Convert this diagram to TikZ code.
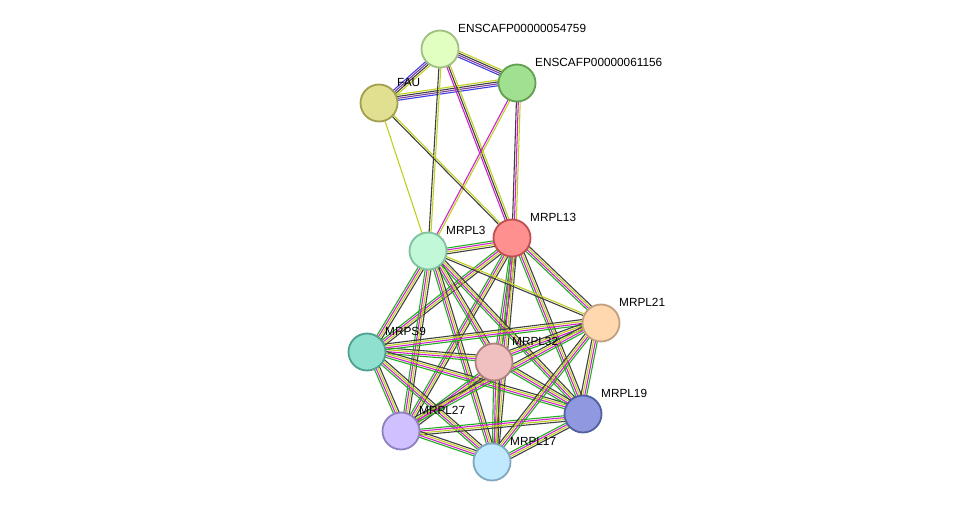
\documentclass[tikz,border=0pt]{standalone}
\usepackage{fontspec}
\setmainfont{Liberation Sans}
\usetikzlibrary{calc}
\definecolor{xg}{HTML}{20B020}
\definecolor{xm}{HTML}{D020D0}
\definecolor{xy}{HTML}{C0D020}
\definecolor{xk}{HTML}{404040}
\definecolor{xb}{HTML}{4040E0}
\definecolor{xv}{HTML}{8040A0}
\tikzset{prot/.style={circle,draw,line width=1.8pt,minimum size=37pt,inner sep=0pt},
lab/.style={font=\fontsize{11.8}{13}\selectfont,anchor=south west,inner sep=1pt}}
\newcommand{\edg}[3]{%
\foreach \c [count=\i] in {#3}{\pgfmathsetmacro{\o}{(\i-1)*1.9}%
\draw[color=\c,line width=1.1pt] ($(#1)!\o pt!90:(#2)$) -- ($(#2)!\o pt!-90:(#1)$);}}
\begin{document}
\begin{tikzpicture}[x=1pt,y=-1pt]
\useasboundingbox (0,0) rectangle (976,508);
\coordinate (E1) at (440,49);
\coordinate (E2) at (517,83);
\coordinate (F) at (379,103);
\coordinate (L13) at (512,238);
\coordinate (L3) at (428,251);
\coordinate (L21) at (601,323);
\coordinate (S9) at (367,352);
\coordinate (L32) at (494,362);
\coordinate (L19) at (583,414);
\coordinate (L27) at (401,431);
\coordinate (L17) at (492,462);
\edg{E1}{E2}{xb,xv,xk,xy}
\edg{E1}{F}{xb,xv,xk,xy}
\edg{F}{E2}{xb,xv,xk,xy}
\edg{E1}{L3}{xk,xy}
\edg{E1}{L13}{xm,xk,xy}
\edg{E2}{L3}{xm,xy}
\edg{E2}{L13}{xk,xm,xy}
\edg{F}{L3}{xy}
\edg{F}{L13}{xk,xy}
\foreach \a/\b in {L13/L3,L13/S9,L13/L32,L13/L19,L13/L27,L13/L17,L3/S9,L3/L32,L3/L19,L3/L27,L3/L17,
S9/L32,S9/L19,S9/L27,S9/L17,S9/L21,L32/L19,L32/L27,L32/L17,L32/L21,L19/L27,L19/L17,L19/L21,L27/L17,L27/L21,L17/L21,L13/L21}
{\edg{\a}{\b}{xg,xm,xy,xk}}
\edg{L3}{L21}{xk,xy}
\foreach \n/\f/\d/\t in {E1/E0FFC0/A0C080/ENSCAFP00000054759,E2/A0E090/60A050/ENSCAFP00000061156,F/E0E090/A0A050/FAU,
L13/FF9090/C05050/MRPL13,L3/C0F8D8/80C0A0/MRPL3,L21/FFD8B0/C0A080/MRPL21,S9/90E0D0/50A090/MRPS9,
L32/F0C0C0/B08080/MRPL32,L19/9098E0/5060A0/MRPL19,L27/D0C0FF/9080C0/MRPL27,L17/C0E8FF/80A8C0/MRPL17}{
\definecolor{fc}{HTML}{\f}\definecolor{dc}{HTML}{\d}
\node[prot,fill=fc,draw=dc] (n\n) at (\n) {};
\node[lab] (t\n) at ($(\n)+(17,-15)$) {\t};}
\end{tikzpicture}
\end{document}
